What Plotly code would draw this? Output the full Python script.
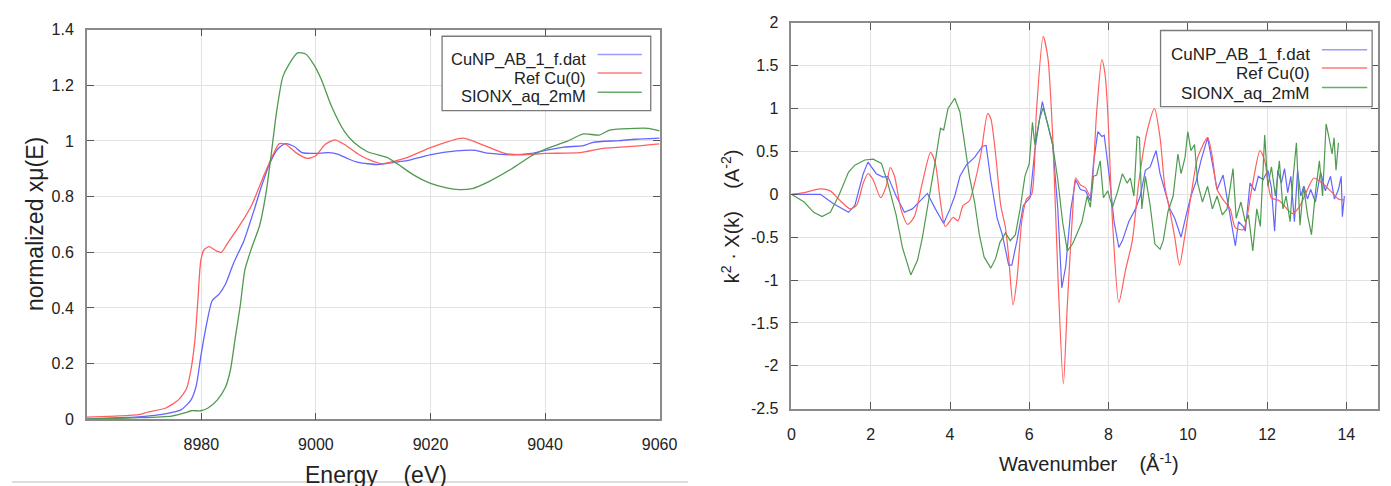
import plotly.graph_objects as go

# ---------------- data: left panel (XANES) ----------------
series_names = ["CuNP_AB_1_f.dat", "Ref Cu(0)", "SIONX_aq_2mM"]
series_colors = ["#6464ff", "#ff5f5f", "#4f9a4f"]
legend_colors = ["#9a9aff", "#ff7a7a", "#6aaa6a"]

e_cunp = [8960, 8965, 8969, 8973.7, 8976.5, 8978.2, 8979.1, 8979.9, 8980.8, 8981.9, 8983.1, 8984.2,
          8985.6, 8987.4, 8989.1, 8990.5, 8991.9, 8993.3, 8994.6, 8996.2, 8997.6, 8999.9, 9002.2,
          9003.9, 9005.7, 9007.4, 9010.8, 9013.7, 9015.9, 9019.9, 9024.5, 9027.9, 9029.6, 9034.2,
          9037.6, 9040, 9043.3, 9046.7, 9048.4, 9052.9, 9055.8, 9060]
mu_cunp = [0.002, 0.005, 0.009, 0.02, 0.035, 0.07, 0.12, 0.225, 0.33, 0.427, 0.45, 0.485,
           0.56, 0.64, 0.745, 0.837, 0.917, 0.97, 0.99, 0.98, 0.958, 0.955, 0.958,
           0.952, 0.935, 0.923, 0.915, 0.923, 0.929, 0.95, 0.964, 0.966, 0.957, 0.95,
           0.955, 0.966, 0.978, 0.983, 0.995, 1.001, 1.006, 1.01]

e_ref = [8960, 8965, 8969.1, 8970.8, 8973.7, 8976.0, 8977.4, 8978.2, 8978.9, 8979.4, 8979.9, 8980.5,
         8981.4, 8982.5, 8983.5, 8984.5, 8986.8, 8988.8, 8990.8, 8992.5, 8993.6, 8994.8, 8996.5,
         8998.5, 8999.9, 9001.6, 9003.3, 9005.0, 9007.4, 9009.0, 9011.4, 9015.9, 9019.9, 9025.6,
         9029, 9033, 9035.9, 9040, 9046.1, 9050.1, 9055.8, 9060]
mu_ref = [0.008, 0.012, 0.017, 0.027, 0.04, 0.07, 0.11, 0.18, 0.29, 0.43, 0.57, 0.61,
          0.62, 0.606, 0.60, 0.63, 0.70, 0.77, 0.87, 0.95, 0.99, 0.987, 0.958,
          0.937, 0.946, 0.987, 1.004, 0.987, 0.952, 0.935, 0.918, 0.94, 0.975, 1.01,
          0.987, 0.955, 0.95, 0.955, 0.958, 0.973, 0.981, 0.989]

e_sionx = [8960, 8965, 8969.1, 8974.8, 8977.1, 8978.2, 8979.9, 8981.1, 8982.8, 8984.2, 8985.1, 8985.9,
           8986.8, 8987.6, 8988.8, 8990.2, 8991.3, 8992.2, 8993.1, 8994.2, 8995.3, 8996.8, 8998.2,
           8999.6, 9001.0, 9002.7, 9005.0, 9006.7, 9009.0, 9012.5, 9014.2, 9017.1, 9019.9, 9022.8,
           9025, 9027.3, 9030.2, 9034.2, 9037.6, 9040, 9043.8, 9046.7, 9049.5, 9051.3, 9055.8,
           9058, 9060]
mu_sionx = [0.001, 0.004, 0.006, 0.012, 0.023, 0.031, 0.031, 0.04, 0.07, 0.115, 0.18, 0.29,
            0.41, 0.537, 0.617, 0.698, 0.814, 0.952, 1.10, 1.229, 1.275, 1.316, 1.312,
            1.275, 1.218, 1.125, 1.033, 0.993, 0.961, 0.94, 0.918, 0.877, 0.848, 0.831,
            0.825, 0.829, 0.854, 0.9, 0.946, 0.97, 0.998, 1.025, 1.021, 1.039, 1.045,
            1.045, 1.036]

# ---------------- data: right panel (EXAFS k^2 chi) ----------------
k_cunp = [0, 0.73, 1.06, 1.44, 1.6, 1.81, 1.93, 2.14, 2.31, 2.43, 2.64, 2.85, 3.05, 3.22, 3.43, 3.63,
          3.84, 4.0, 4.12, 4.25, 4.41, 4.62, 4.82, 4.91, 5.03, 5.19, 5.32, 5.48, 5.56, 5.69, 5.85,
          6.02, 6.14, 6.26, 6.33, 6.43, 6.59, 6.72, 6.82, 6.92, 7.05, 7.17, 7.29, 7.42, 7.54, 7.62,
          7.73, 7.83, 7.89, 8.02, 8.14, 8.26, 8.35, 8.51, 8.68, 8.8, 8.93, 9.05, 9.2, 9.3, 9.42,
          9.55, 9.67, 9.83, 9.96, 10.08, 10.21, 10.33, 10.5, 10.62, 10.74, 10.89, 11.03, 11.2,
          11.28, 11.4, 11.45, 11.57, 11.69, 11.78, 11.9, 12.02, 12.11, 12.19, 12.27, 12.36, 12.44,
          12.52, 12.6, 12.69, 12.77, 12.85, 12.93, 13.02, 13.1, 13.22, 13.35, 13.47, 13.6, 13.7,
          13.8, 13.87, 13.9, 13.95]
chi_cunp = [0, 0, -0.11, -0.21, -0.13, 0.24, 0.375, 0.24, 0.2, 0.21, -0.02, -0.21, -0.17, -0.09, 0.01, -0.17,
            -0.34, -0.17, -0.02, 0.21, 0.34, 0.43, 0.56, 0.57, 0.17, -0.28, -0.47, -0.825, -0.825, -0.54, -0.13,
            -0.04, 0.51, 0.88, 1.08, 0.88, 0.58, -0.17, -1.09, -0.84, -0.17, 0.17, 0.056, 0.04, -0.075, 0.36,
            0.73, 0.675, 0.69, 0.21, -0.32, -0.62, -0.54, -0.32, -0.17, -0.02, 0.28, 0.32, 0.51, 0.24, 0.04,
            -0.17, -0.28, -0.5, -0.24, -0.02, 0.15, 0.39, 0.66, 0.36, 0.056, 0.225, -0.17, -0.6,
            -0.32, -0.375, -0.43, 0.13, 0.04, 0.21, 0.17, 0.28, 0.075, -0.43, 0.28, 0.13, 0.3,
            0.02, 0.21, -0.32, 0.28, -0.02, 0.094, -0.056, 0.056, -0.09, 0.26, 0.04, 0.21, -0.056,
            0.056, 0.21, -0.26, -0.02]

k_ref = [0, 0.32, 0.73, 0.98, 1.23, 1.48, 1.64, 1.81, 1.93, 2.06, 2.25, 2.39, 2.49, 2.6, 2.76, 2.93,
         3.1, 3.3, 3.51, 3.63, 3.76, 3.88, 4.08, 4.2, 4.33, 4.49, 4.62, 4.78, 4.95, 5.03, 5.15, 5.28,
         5.4, 5.48, 5.59, 5.69, 5.81, 5.93, 6.06, 6.18, 6.35, 6.47, 6.6, 6.72, 6.86, 6.96, 7.09, 7.17,
         7.29, 7.42, 7.54, 7.7, 7.83, 7.91, 7.98, 8.1, 8.26, 8.43, 8.6, 8.76, 8.97, 9.16, 9.3, 9.42,
         9.55, 9.67, 9.79, 9.92, 10.08, 10.25, 10.5, 10.62, 10.74, 10.91, 11.07, 11.2, 11.4, 11.61,
         11.82, 11.94, 12.11, 12.31, 12.64, 12.81, 13.02, 13.18, 13.39, 13.6, 13.8, 13.95]
chi_ref = [0, 0.02, 0.064, 0.04, -0.075, -0.17, -0.13, 0.13, 0.24, 0.17, -0.04, 0.094, 0.31, 0.21, -0.17, -0.35,
           -0.26, 0.13, 0.49, 0.36, -0.09, -0.375, -0.27, -0.31, -0.13, -0.075, 0.13, 0.47, 0.94, 0.88, 0.47, -0.13,
           -0.39, -0.73, -1.29, -0.99, -0.32, -0.056, 0, 0.96, 1.84, 1.59, 0.58, -0.92, -2.21, -1.29, -0.24, 0.19,
           0.11, 0.075, -0.02, 0.96, 1.57, 1.41, 0.96, -0.32, -1.26, -0.88, -0.54, 0.13, 0.73, 1.0, 0.66, 0.094,
           -0.2, -0.5, -0.825, -0.5, -0.02, 0.43, 0.66, 0.43, 0.056, -0.075, -0.17, -0.39, -0.41, 0.056,
           0.51, 0.39, -0.04, -0.075, -0.225, -0.15, 0.056, 0.19, 0.13, 0.04, -0.056, -0.064]

k_sionx = [0, 0.32, 0.56, 0.77, 0.98, 1.19, 1.44, 1.6, 1.85, 2.06, 2.27, 2.43, 2.64, 2.8, 3.01, 3.18,
           3.3, 3.47, 3.63, 3.76, 3.84, 3.95, 4.12, 4.25, 4.37, 4.49, 4.62, 4.74, 4.86, 5.03, 5.15,
           5.26, 5.4, 5.52, 5.65, 5.77, 5.89, 6.0, 6.08, 6.14, 6.26, 6.35, 6.47, 6.59, 6.72, 6.84,
           6.96, 7.09, 7.21, 7.33, 7.46, 7.54, 7.62, 7.7, 7.79, 7.87, 7.98, 8.1, 8.22, 8.35, 8.47,
           8.55, 8.64, 8.72, 8.78, 8.84, 8.93, 9.05, 9.17, 9.3, 9.38, 9.5, 9.63, 9.75, 9.83, 9.93,
           10.0, 10.08, 10.17, 10.25, 10.37, 10.5, 10.62, 10.74, 10.87, 10.99, 11.14, 11.22, 11.34,
           11.45, 11.53, 11.64, 11.74, 11.83, 11.94, 12.02, 12.11, 12.21, 12.31, 12.4, 12.48, 12.58,
           12.66, 12.74, 12.83, 12.92, 13.02, 13.12, 13.22, 13.32, 13.4, 13.49, 13.55, 13.64, 13.69,
           13.74, 13.8]
chi_sionx = [0, -0.09, -0.21, -0.26, -0.21, -0.02, 0.26, 0.34, 0.4, 0.41, 0.36, 0.13, -0.24, -0.62, -0.94, -0.77,
             -0.51, -0.056, 0.39, 0.77, 0.75, 1.0, 1.12, 0.96, 0.58, 0.21, -0.09, -0.47, -0.73, -0.86, -0.75,
             -0.56, -0.45, -0.54, -0.47, -0.17, 0.21, 0.36, 0.84, 0.58, 0.88, 1.01, 0.81, 0.58, 0.17, -0.32,
             -0.66, -0.58, -0.45, -0.32, -0.02, -0.15, 0.21, 0.225, 0.39, -0.04, 0.04, -0.15, 0.02, 0.24, 0.13,
             0.19, -0.02, 0.675, 0.66, -0.17, 0.21, -0.13, -0.58, -0.64, -0.54, -0.2, -0.02, 0.47, 0.24, 0.43,
             0.73, 0.51, 0.58, 0.13, -0.09, 0.094, -0.17, -0.02, -0.24, -0.17, 0.3, -0.28, -0.09,
             -0.32, -0.24, -0.66, -0.17, -0.375, 0.69, 0.094, 0.32, -0.02, 0.39, -0.17, -0.02, -0.32,
             0.21, 0.6, -0.36, 0.094, -0.24, -0.47, 0.02, 0.39, -0.02, 0.82, 0.69, 0.47, 0.66,
             0.28, 0.6]

# tick labels
left_x_ticks = [8980, 9000, 9020, 9040, 9060]
left_y_ticks = [0, 0.2, 0.4, 0.6, 0.8, 1.0, 1.2, 1.4]
left_y_text = ["0", "0.2", "0.4", "0.6", "0.8", "1", "1.2", "1.4"]
right_x_ticks = [0, 2, 4, 6, 8, 10, 12, 14]
right_y_ticks = [-2.5, -2, -1.5, -1, -0.5, 0, 0.5, 1, 1.5, 2]
right_y_text = ["-2.5", "-2", "-1.5", "-1", "-0.5", "0", "0.5", "1", "1.5", "2"]

for a, b in [(e_cunp, mu_cunp), (e_ref, mu_ref), (e_sionx, mu_sionx),
             (k_cunp, chi_cunp), (k_ref, chi_ref), (k_sionx, chi_sionx)]:
    assert len(a) == len(b), (len(a), len(b))

# ---------------- figure ----------------
W, H = 1391, 486
def fx(p):
    return p / W
def fy(p):
    return 1 - p / H

FONT = "Liberation Sans, Arial, sans-serif"
TXT = "#222222"

fig = go.Figure()
left_data = [(e_cunp, mu_cunp), (e_ref, mu_ref), (e_sionx, mu_sionx)]
right_data = [(k_cunp, chi_cunp), (k_ref, chi_ref), (k_sionx, chi_sionx)]
for i, (x, y) in enumerate(left_data):
    fig.add_trace(go.Scatter(x=x, y=y, mode="lines", name=series_names[i],
                             line=dict(color=series_colors[i], width=1.3, shape="spline", smoothing=0.6),
                             xaxis="x", yaxis="y", showlegend=False))
for i, (x, y) in enumerate(right_data):
    shp = "spline" if i == 1 else "linear"
    fig.add_trace(go.Scatter(x=x, y=y, mode="lines", name=series_names[i],
                             line=dict(color=series_colors[i], width=1.2, shape=shp, smoothing=0.7),
                             xaxis="x2", yaxis="y2", showlegend=False))

axis_common = dict(showline=True, linecolor="#8a8a8a", linewidth=1.5, mirror="ticks",
                   ticks="inside", ticklen=7, tickcolor="#555555", tickwidth=1,
                   showgrid=True, gridcolor="#e2e2e2", gridwidth=1, zeroline=False,
                   tickfont=dict(family=FONT, size=16, color=TXT))

fig.update_layout(
    width=W, height=H, margin=dict(l=0, r=0, t=0, b=0),
    paper_bgcolor="white", plot_bgcolor="white", showlegend=False,
    xaxis=dict(domain=[fx(76), fx(658)], anchor="y", range=[8960, 9060],
               tickvals=left_x_ticks, ticklabelstandoff=10, **axis_common),
    yaxis=dict(domain=[fy(418), fy(14)], anchor="x", range=[0, 1.4],
               tickvals=left_y_ticks, ticktext=left_y_text, ticklabelstandoff=8, **axis_common),
    xaxis2=dict(domain=[fx(792), fx(1388)], anchor="y2", range=[0, 14.8],
                tickvals=right_x_ticks, ticklabelstandoff=10, **axis_common),
    yaxis2=dict(domain=[fy(407), fy(7)], anchor="x2", range=[-2.5, 2],
                tickvals=right_y_ticks, ticktext=right_y_text, ticklabelstandoff=8, **axis_common),
)

annotations = []
shapes = []

# axis titles
nb = "\u00a0"
annotations.append(dict(text="normalized xμ(E)", x=fx(24), y=fy(216), xref="paper", yref="paper",
                        textangle=-90, showarrow=False, xanchor="center", yanchor="middle",
                        font=dict(family=FONT, size=23, color=TXT)))
annotations.append(dict(text="Energy" + nb * 4 + "(eV)", x=fx(370), y=fy(476), xref="paper", yref="paper",
                        showarrow=False, xanchor="center", yanchor="middle",
                        font=dict(family=FONT, size=23, color=TXT)))
annotations.append(dict(text="Wavenumber" + nb * 4 + "(Å<sup>-1</sup>)", x=fx(1094), y=fy(463),
                        xref="paper", yref="paper", showarrow=False, xanchor="center", yanchor="middle",
                        font=dict(family=FONT, size=20, color=TXT)))
annotations.append(dict(text="k<sup>2</sup> · X(k)" + nb * 4 + "(A<sup>-2</sup>)", x=fx(730), y=fy(207),
                        xref="paper", yref="paper", textangle=-90, showarrow=False,
                        xanchor="center", yanchor="middle",
                        font=dict(family=FONT, size=20, color=TXT)))

# custom legends (text right-aligned, sample line to the right)
def add_legend(box, text_right, line_x0, line_x1, text_ys, line_ys, fsize):
    shapes.append(dict(type="rect", xref="paper", yref="paper",
                       x0=fx(box[0]), x1=fx(box[1]), y0=fy(box[3]), y1=fy(box[2]),
                       line=dict(color="#7a7a7a", width=1.3), fillcolor="white", layer="above"))
    for i, name in enumerate(series_names):
        annotations.append(dict(text=name, x=fx(text_right), y=fy(text_ys[i]), xref="paper", yref="paper",
                                showarrow=False, xanchor="right", yanchor="middle",
                                font=dict(family=FONT, size=fsize, color=TXT)))
        shapes.append(dict(type="line", xref="paper", yref="paper",
                           x0=fx(line_x0), x1=fx(line_x1), y0=fy(line_ys[i]), y1=fy(line_ys[i]),
                           line=dict(color=legend_colors[i], width=1.5), layer="above"))

add_legend((437, 649, 21, 98), 585, 595, 640, (45, 64, 83), (40, 59, 79), 16.5)
add_legend((1167, 1382, 15, 94), 1321, 1331, 1377, (40, 60, 80), (35, 54, 74), 17)

# separator line under left screenshot
shapes.append(dict(type="line", xref="paper", yref="paper", x0=0, x1=fx(687), y0=fy(483), y1=fy(483),
                   line=dict(color="#d2d2d2", width=1.5), layer="above"))

fig.update_layout(annotations=annotations, shapes=shapes)
fig.write_html("out.html")
